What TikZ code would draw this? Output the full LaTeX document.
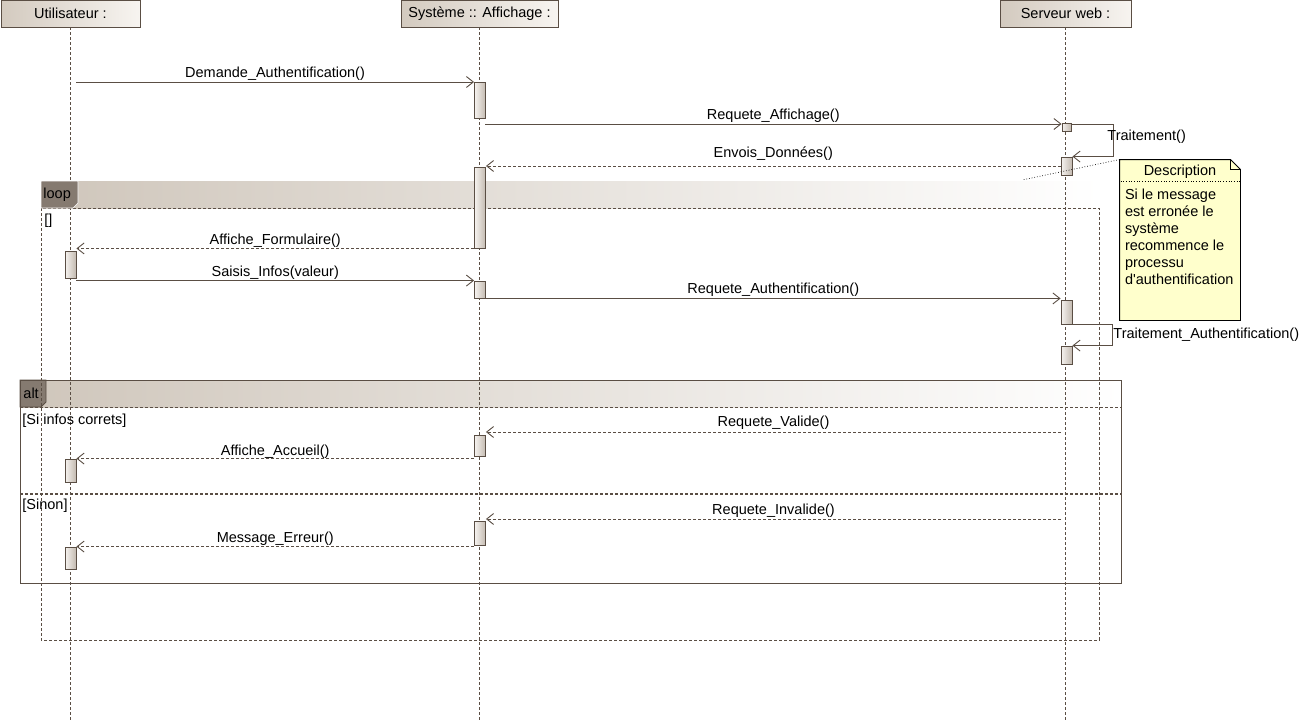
\documentclass[tikz,border=0pt]{standalone}
\usepackage{fontspec}
\setmainfont{Liberation Sans}
\usetikzlibrary{arrows.meta,positioning,calc}
\definecolor{Line}{HTML}{5A4E44}
\definecolor{HeadL}{HTML}{D3CABF}
\definecolor{HeadR}{HTML}{F7F4F0}
\definecolor{BandL}{HTML}{CFC6BB}
\definecolor{TabFill}{HTML}{857A70}
\definecolor{ActL}{HTML}{F6F3F0}
\definecolor{ActR}{HTML}{C3BAB0}
\definecolor{NoteFill}{HTML}{FFFFCC}

\begin{document}
\begin{tikzpicture}[x=1pt,y=-1pt,line width=0.9pt,
    every node/.style={font=\fontsize{14.5}{17}\selectfont, inner sep=0pt},
    head/.style={draw=Line,left color=HeadL,right color=HeadR,minimum height=27pt},
    life/.style={draw=Line,dash pattern=on 3pt off 2pt},
    actbox/.style={draw=Line,left color=ActL,right color=ActR,minimum width=11pt,minimum height=#1},
    call/.style={draw=Line,-{Straight Barb[length=7pt,width=11pt]}},
    reply/.style={call,dash pattern=on 3pt off 2pt},
    frame/.style={draw=Line,dash pattern=on 3pt off 2pt}]
  \useasboundingbox (0,0) rectangle (1308,720);
  \coordinate (bottom) at (0,720);

  % fragment bands
  \fill[left color=BandL,right color=white] (41,181) rectangle (1100,208);
  \fill[left color=BandL,right color=white] (20,380) rectangle (1121,407);
  \fill[TabFill,draw=Line] (20,380) -- (46,380) -- (46,402) -- (41,407) -- (20,407) -- cycle;
  \node[anchor=west] (alttab) at (23,393.5) {alt};

  % lifelines
  \node[head,minimum width=139pt] (user) at (70.5,13.5) {Utilisateur :};
  \node[head,minimum width=157pt] (sys) at (479.5,13.5) {Système :: Affichage :};
  \node[head,minimum width=131pt] (web) at (1065.5,13.5) {Serveur web :};
  \foreach \n in {user,sys,web}
    \draw[life] (\n.south) -- (\n.south |- bottom);

  % loop
  \draw[frame] (41,208) rectangle (1099,640);
  \fill[TabFill,draw=white,line width=0.6pt] (41,181) -- (78,181) -- (78,203) -- (73,208) -- (41,208) -- cycle;
  \node[anchor=west] (looptab) at (43,194.5) {loop};
  \node[anchor=west] (loopcond) at (44,221) {[]};

  % alt
  \draw[Line] (20,380) rectangle (1121,583);
  \draw[frame] (20,407) -- (1121,407);
  \draw[frame,line width=1.4pt] (20,494) -- (1121,494);
  \node[anchor=west] (altif) at (22,421) {[Si infos correts]};
  \node[anchor=west] (altelse) at (22,506) {[Sinon]};

  % activations
  \node[actbox=36pt] (s1) at (480,100) {};
  \node[actbox=81pt] (s2) at (480,207.5) {};
  \node[actbox=17pt] (s3) at (480,289.5) {};
  \node[actbox=21pt] (s4) at (480,445.5) {};
  \node[actbox=24pt] (s5) at (480,533) {};
  \node[actbox=8pt,minimum width=9pt] (w1) at (1066.5,127) {};
  \node[actbox=18pt] (w2) at (1066.5,166) {};
  \node[actbox=24pt] (w3) at (1066.5,312) {};
  \node[actbox=18pt] (w4) at (1066.5,355) {};
  \node[actbox=27pt] (u1) at (70.5,264.5) {};
  \node[actbox=23pt] (u2) at (70.5,470.5) {};
  \node[actbox=22pt] (u3) at (70.5,558) {};

  \coordinate (m1) at (76,82);
  \coordinate (m2) at (485,124);
  \coordinate (m12) at (1061,432);
  \coordinate (m14) at (1061,519);

  % messages
  \draw[call] (m1) -- (m1 -| s1.west) node[midway,above=1pt] {Demande\_Authentification()};
  \draw[call] (m2) -- (m2 -| w1.west) node[midway,above=1pt] {Requete\_Affichage()};
  \draw[call] (w1.east |- m2) -- ++(42,0) |- (w2.north east);
  \node[anchor=west] (selftxt) at (1107,137) {Traitement()};
  \draw[reply] (w2.west) -- (w2.west -| s2.east) node[midway,above=5pt] {Envois\_Données()};
  \draw[reply] (s2.south west) -- (s2.south west -| u1.east) node[midway,above=1pt] {Affiche\_Formulaire()};
  \draw[call] (s3.north west -| u1.east) -- (s3.north west) node[midway,above=1pt] {Saisis\_Infos(valeur)};
  \draw[call] (s3.south east) -- (s3.south east -| w3.west) node[midway,above=1pt] {Requete\_Authentification()};
  \draw[call] (w3.south east) -- ++(40,0) |- (w4.north east);
  \node[anchor=west] (selfauth) at (1113,335) {Traitement\_Authentification()};
  \draw[reply] (m12) -- (m12 -| s4.east) node[midway,above=2pt] {Requete\_Valide()};
  \draw[reply] (s4.west |- u2.north) -- (u2.north east) node[midway,above=0pt] {Affiche\_Accueil()};
  \draw[reply] (m14) -- (m14 -| s5.east) node[midway,above=1pt] {Requete\_Invalide()};
  \draw[reply] (s5.west |- u3.north) -- (u3.north east) node[midway,above=1pt] {Message\_Erreur()};

  % note
  \node[minimum width=120pt,minimum height=160pt] (note) at (1180,240) {};
  \draw[black,fill=NoteFill] (note.north west) -- ($(note.north east)+(-10,0)$)
    -- ($(note.north east)+(0,10)$) -- (note.south east) -- (note.south west) -- cycle;
  \draw[black] ($(note.north east)+(-10,0)$) -- ($(note.north east)+(-10,10)$) -- ($(note.north east)+(0,10)$);
  \node (ntitle) at ($(note.north)+(0,12)$) {Description};
  \draw[black,dotted,line width=0.7pt] ($(note.north west)+(1,22)$) -- ($(note.north east)+(-1,22)$);
  \node[anchor=north west,align=left] (nbody) at ($(note.north west)+(5,29)$)
    {Si le message\\est erronée le\\système\\recommence le\\processu\\d\textquotesingle authentification};
  \coordinate (notept) at (1022,180);
  \draw[black,dotted,line width=0.7pt] (note.north west) -- (notept);
\end{tikzpicture}
\end{document}
